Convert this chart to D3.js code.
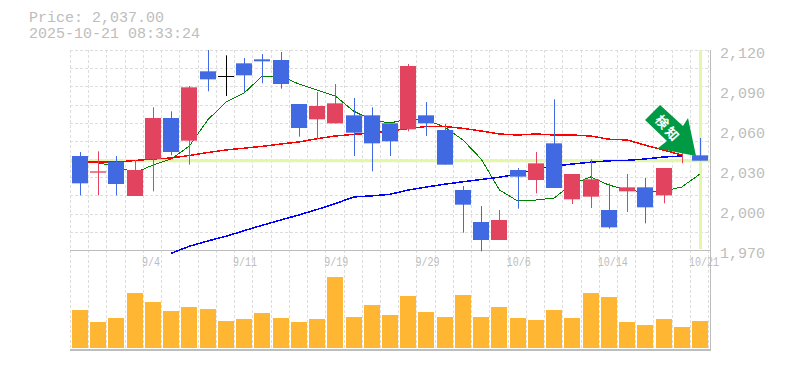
<!DOCTYPE html>
<html>
<head>
<meta charset="utf-8">
<script src="https://cdn.jsdelivr.net/npm/d3@7"></script>
<style>
html, body { margin: 0; padding: 0; background: #fff; }
svg { display: block; }
text { font-family: "Liberation Mono", monospace; fill: #bdbdbd; }
</style>
</head>
<body>
<div id="chart"></div>
<script>
var tickDates = ["9/4","9/11","9/19","9/29","10/6","10/14","10/21"];
var tickIdx = [4, 9, 14, 19, 24, 29, 34];
var priceTicks = [2120,2090,2060,2030,2000,1970];

var opens  = [2040.5,2028,2036,2010.5,2038,2069,2052,2104,2100.5,2110,2113,2112.5,2079.5,2068,2065,2071,2071,2065,2060.5,2071,2060,2015,1991,1977.5,2030,2022.5,2050,2008,2010,2000,2014,2017,2011,2045,2041];
var closes = [2020,2029,2019.5,2030,2069,2043.5,2092,2098,2100.5,2101,2111.5,2094.5,2061.5,2078,2080,2058,2050,2051.5,2108,2065,2034,2004,1977.5,1992.5,2025,2035,2016.5,2027,2023,1987,2017,2002,2031.5,2056,2037];
var highs  = [2043.5,2044,2040.5,2037.5,2077,2074,2093,2120,2116,2114,2117,2118.5,2079.5,2088.5,2094.5,2084,2077,2065,2109.5,2081,2064.5,2018,2003,2000,2031.5,2043.5,2083,2027,2038,2020,2027,2024,2031.5,2056,2054];
var lows   = [2011,2011,2011,2010.5,2014,2041,2034,2089,2085.5,2088.5,2095,2091,2055,2053,2065,2040.5,2029,2040.5,2059,2055.5,2034,1983,1969,1977.5,2001,2012.5,2016.5,2004.5,2001.5,1986,1998.5,1990,2005,2035,2037];
var volumes = [380,260,300,550,460,370,410,390,270,290,350,300,260,290,710,310,430,330,520,360,310,530,310,410,300,280,380,300,550,510,260,230,290,210,270];

var ma5  = [2036,2035.25,2033,2027.75,2033.75,2038.25,2048,2067.5,2081,2087.75,2100.5,2100.5,2094.5,2090,2085.5,2074.25,2067.5,2065.25,2068.25,2067.5,2062.25,2052.5,2038.25,2015,2006.75,2007.5,2009,2019.5,2024.75,2018.75,2015,2013.5,2014.25,2017.25,2027];
var ma25 = [2036,2036,2036,2037.1,2038.25,2039,2040.9,2043.1,2045,2046.35,2047.75,2049.5,2051,2053.5,2055.5,2056.7,2057.75,2059.25,2061.1,2062.6,2062.6,2061.25,2059.25,2057,2056.25,2057,2056.25,2056.25,2055.5,2053.1,2052.5,2048.6,2045,2041.25,null];
var ma75 = [null,null,null,null,null,1967.5,1972.85,1976.75,1980.25,1984.5,1988.6,1992.5,1996.25,2000.4,2004.75,2009.75,2010.6,2011.75,2015,2017.25,2019.35,2021.15,2022.9,2024.6,2027,2030.75,2032.75,2034.5,2035.85,2036.9,2037.25,2038.25,2039.75,2040.5,null];

var curPrice = 2037;

var width = 785, height = 370;
var svg = d3.select("#chart").append("svg").attr("width", width).attr("height", height);

var x = d3.scaleBand().domain(d3.range(opens.length)).range([70, 708.2]);
var y = d3.scaleLinear().domain([1970, 2120]).range([250, 50]);
var yVol = d3.scaleLinear().domain([0, 1000]).range([348, 248]);
var barW = 16;
function cx(i) { return x(i) + x.bandwidth() / 2 + 0.9; }
function bx(i) { return Math.round(cx(i) - barW / 2); }
function wx(i) { return Math.round(cx(i)) + 0.5; }

// grid
var grid = svg.append("g").attr("stroke", "#dddddd").attr("stroke-dasharray", "3,2");
grid.selectAll(".v").data(d3.range(opens.length + 1)).enter().append("line")
  .attr("x1", function(d) { return Math.round(70 + d * x.bandwidth()) + 0.5; })
  .attr("x2", function(d) { return Math.round(70 + d * x.bandwidth()) + 0.5; })
  .attr("y1", 50).attr("y2", 349);
grid.selectAll(".h").data(d3.range(11)).enter().append("line")
  .attr("x1", 70).attr("x2", 710)
  .attr("y1", function(d) { return Math.round(50 + d * 200 / 11) + 0.5; })
  .attr("y2", function(d) { return Math.round(50 + d * 200 / 11) + 0.5; });

// current price + current day highlight
svg.append("line").attr("x1", 70).attr("x2", 710).attr("y1", y(curPrice)).attr("y2", y(curPrice))
  .attr("stroke", "#e4f6a8").attr("stroke-width", 3);
svg.append("line").attr("x1", wx(34)).attr("x2", wx(34)).attr("y1", 50).attr("y2", 249)
  .attr("stroke", "#e4f6a8").attr("stroke-width", 3);

// frame
var frame = svg.append("g").attr("stroke", "#bdbdbd");
frame.append("line").attr("x1", 70).attr("x2", 711).attr("y1", 250.5).attr("y2", 250.5);
frame.append("line").attr("x1", 70).attr("x2", 711).attr("y1", 350).attr("y2", 350).attr("stroke-width", 2);
frame.append("line").attr("x1", 710.5).attr("x2", 710.5).attr("y1", 50).attr("y2", 351);

// moving averages
function maLine(vals, color, w) {
  var line = d3.line()
    .defined(function(d) { return d !== null; })
    .x(function(d, i) { return cx(i); })
    .y(function(d) { return y(d); });
  svg.append("path").attr("d", line(vals)).attr("fill", "none").attr("stroke", color).attr("stroke-width", w)
    .attr("shape-rendering", "crispEdges");
}

function candleColor(i) {
  if (closes[i] > opens[i]) return "#e2435f";
  if (closes[i] < opens[i]) return "#4169e1";
  return "#000";
}

maLine(ma5, "#008000", 1);
maLine(ma25, "#ff0000", 1.5);
maLine(ma75, "#0000ff", 1.5);

// candles
var candles = svg.append("g");
candles.selectAll(".wick").data(opens).enter().append("line")
  .attr("x1", function(d, i) { return wx(i); })
  .attr("x2", function(d, i) { return wx(i); })
  .attr("y1", function(d, i) { return y(highs[i]); })
  .attr("y2", function(d, i) { return y(lows[i]); })
  .attr("stroke", function(d, i) { return candleColor(i); })
  .attr("stroke-width", 1);
candles.selectAll(".body").data(opens).enter().append("rect")
  .attr("x", function(d, i) { return bx(i); })
  .attr("width", barW)
  .attr("y", function(d, i) { return y(Math.max(opens[i], closes[i])); })
  .attr("height", function(d, i) { return Math.max(1, Math.abs(y(opens[i]) - y(closes[i]))); })
  .attr("fill", function(d, i) { return candleColor(i); });

// volume
svg.append("g").selectAll("rect").data(volumes).enter().append("rect")
  .attr("x", function(d, i) { return bx(i); })
  .attr("width", barW)
  .attr("y", function(d) { return yVol(d); })
  .attr("height", function(d) { return yVol(0) - yVol(d); })
  .attr("fill", "#ffb733");

// axis labels
svg.append("g").selectAll("text").data(priceTicks).enter().append("text")
  .attr("x", 720).attr("y", function(d) { return y(d) + 8; })
  .attr("font-size", 15)
  .text(function(d) { return d3.format(",")(d); });

// date labels are narrow and tall in the original, so squeeze them
svg.append("g").selectAll("text").data(tickDates).enter().append("text")
  .attr("transform", function(d, i) { return "translate(" + (x(tickIdx[i]) - 1) + ",266) scale(0.77,1)"; })
  .attr("font-size", 13)
  .text(function(d) { return d; });

// header
svg.append("text").attr("x", 29).attr("y", 22).attr("font-size", 15).text("Price: 2,037.00");
svg.append("text").attr("x", 29).attr("y", 38).attr("font-size", 15).text("2025-10-21 08:33:24");

// signal arrow
svg.append("path")
  .attr("d", "M660,105L645,120L667,141L657.5,148.5L696,156L688,118L683,126Z")
  .attr("fill", "#009944");
var arrowText = ["検", "知"];
var arrowPos = [[662, 122], [672, 134]];
svg.append("g").selectAll("text").data(arrowText).enter().append("text")
  .attr("transform", function(d, i) { return "translate(" + arrowPos[i][0] + "," + arrowPos[i][1] + ") rotate(48)"; })
  .attr("text-anchor", "middle")
  .attr("dy", "0.36em")
  .attr("font-size", 13)
  .attr("font-weight", "bold")
  .style("font-family", '"Noto Sans CJK JP"')
  .style("fill", "#fff")
  .text(function(d) { return d; });
</script>
</body>
</html>
